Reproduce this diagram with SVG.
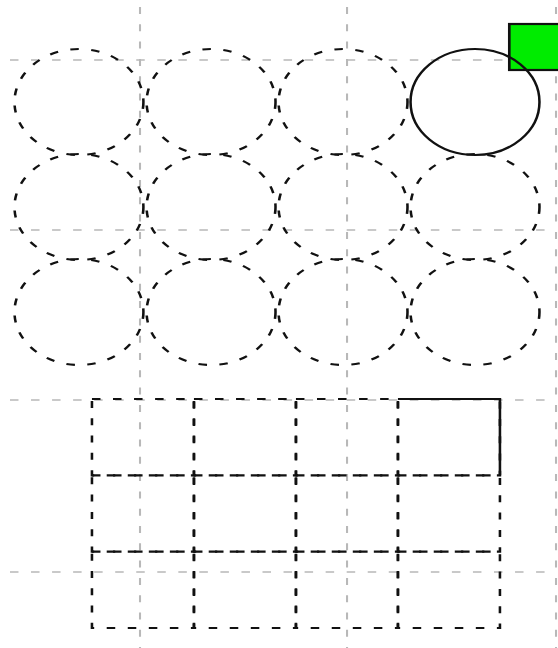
<svg xmlns="http://www.w3.org/2000/svg" width="558" height="648" viewBox="0 0 558 648">
<style>
.guide{fill:none;stroke:#b8b8b8;stroke-width:1.7;stroke-dasharray:7 10.3}
.dash{fill:none;stroke:#111;stroke-width:2.1;stroke-dasharray:7 10.3}
.solid{fill:none;stroke:#111;stroke-width:2.1}
.green{fill:#00ec00;stroke:#111;stroke-width:2.2}
</style>
<rect width="558" height="648" fill="#fff"/>
<g transform="scale(1.2164,1)">
  <g id="guides">
    <line class="guide" x1="115.1" y1="7" x2="115.1" y2="648"/>
    <line class="guide" x1="285.3" y1="7" x2="285.3" y2="648"/>
    <line class="guide" x1="457.1" y1="7" x2="457.1" y2="648"/>
    <line class="guide" x1="8.2" y1="60" x2="450.5" y2="60"/>
    <line class="guide" x1="8.2" y1="230" x2="450.5" y2="230"/>
    <line class="guide" x1="8.2" y1="400" x2="450.5" y2="400"/>
    <line class="guide" x1="8.2" y1="572" x2="450.5" y2="572"/>
  </g>
  <g id="green-box"><rect class="green" x="418.7" y="24" width="50" height="46"/></g>
  <g id="circles">
    <g id="c11"><circle class="dash" cx="64.9" cy="102" r="53"/></g>
    <g id="c12"><circle class="dash" cx="173.5" cy="102" r="53"/></g>
    <g id="c13"><circle class="dash" cx="282" cy="102" r="53"/></g>
    <g id="c14"><circle class="solid" cx="390.5" cy="102" r="53"/></g>
    <g id="c21"><circle class="dash" cx="64.9" cy="207" r="53"/></g>
    <g id="c22"><circle class="dash" cx="173.5" cy="207" r="53"/></g>
    <g id="c23"><circle class="dash" cx="282" cy="207" r="53"/></g>
    <g id="c24"><circle class="dash" cx="390.5" cy="207" r="53"/></g>
    <g id="c31"><circle class="dash" cx="64.9" cy="312" r="53"/></g>
    <g id="c32"><circle class="dash" cx="173.5" cy="312" r="53"/></g>
    <g id="c33"><circle class="dash" cx="282" cy="312" r="53"/></g>
    <g id="c34"><circle class="dash" cx="390.5" cy="312" r="53"/></g>
  </g>
  <g id="cells">
    <g id="r11"><rect class="dash" x="75.6" y="399" width="83.85" height="76.33"/></g>
    <g id="r12"><rect class="dash" x="159.45" y="399" width="83.85" height="76.33"/></g>
    <g id="r13"><rect class="dash" x="243.3" y="399" width="83.85" height="76.33"/></g>
    <g id="r14"><rect class="dash" x="327.15" y="399" width="83.85" height="76.33"/><path class="solid" d="M328.5,399 H411 V475.33"/></g>
    <g id="r21"><rect class="dash" x="75.6" y="475.33" width="83.85" height="76.33"/></g>
    <g id="r22"><rect class="dash" x="159.45" y="475.33" width="83.85" height="76.33"/></g>
    <g id="r23"><rect class="dash" x="243.3" y="475.33" width="83.85" height="76.33"/></g>
    <g id="r24"><rect class="dash" x="327.15" y="475.33" width="83.85" height="76.33"/></g>
    <g id="r31"><rect class="dash" x="75.6" y="551.67" width="83.85" height="76.33"/></g>
    <g id="r32"><rect class="dash" x="159.45" y="551.67" width="83.85" height="76.33"/></g>
    <g id="r33"><rect class="dash" x="243.3" y="551.67" width="83.85" height="76.33"/></g>
    <g id="r34"><rect class="dash" x="327.15" y="551.67" width="83.85" height="76.33"/></g>
  </g>
  <g id="connectors"/>
</g>
</svg>
